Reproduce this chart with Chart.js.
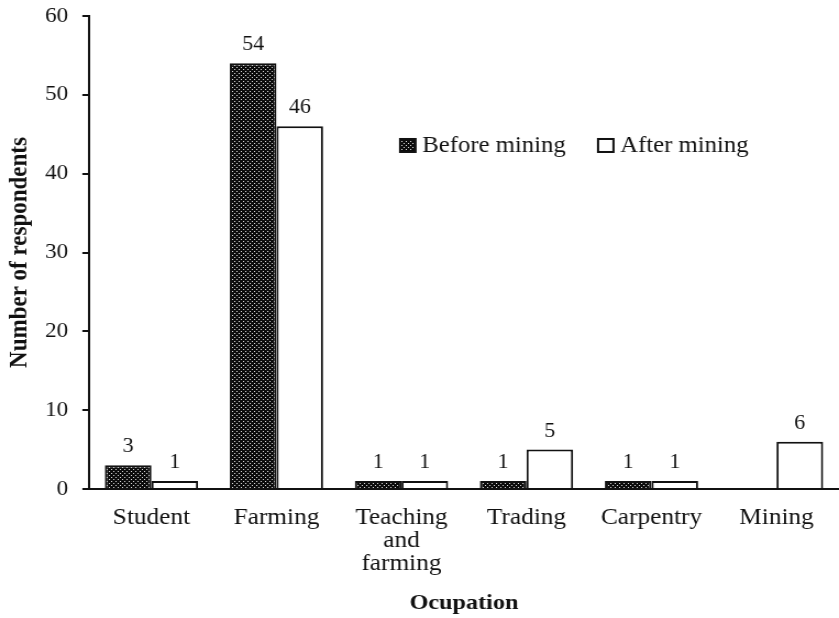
<!DOCTYPE html>
<html>
<head>
<meta charset="utf-8">
<script src="https://cdn.jsdelivr.net/npm/chart.js@4.4.1/dist/chart.umd.min.js"></script>
<style>
  html, body { margin: 0; padding: 0; background: #fff; overflow: hidden; }
  #page { width: 839px; height: 618px; overflow: hidden; position: relative; }
  /* the figure is drawn slightly narrow and widened to the page */
  #wrap { width: 763px; height: 618px; transform: scaleX(1.0996); transform-origin: 0 0; }
</style>
</head>
<body>
<div id="page"><div id="wrap"><canvas id="c" width="763" height="618"></canvas></div></div>
<script>
const categories = ['Student', 'Farming', ['Teaching', 'and', 'farming'], 'Trading', 'Carpentry', 'Mining'];
const beforeMining = [3, 54, 1, 1, 1, null];
const afterMining = [1, 46, 1, 5, 1, 6];
const yTicks = [0, 10, 20, 30, 40, 50, 60];
const seriesNames = ['Before mining', 'After mining'];

const SERIF = '"Liberation Serif", "Times New Roman", serif';
const INK = '#111';

// Dark dotted fill for the "before" bars
function dotPattern() {
  const p = document.createElement('canvas');
  p.width = 4; p.height = 4;
  const g = p.getContext('2d');
  g.fillStyle = '#0c0c0c';
  g.fillRect(0, 0, 4, 4);
  g.fillStyle = '#e0e0e0';
  g.fillRect(1, 1, 1, 1);
  g.fillRect(3, 3, 1, 1);
  return g.createPattern(p, 'repeat');
}
const pattern = dotPattern();

// Value labels above each bar
const valueLabels = {
  id: 'valueLabels',
  afterDatasetsDraw(chart) {
    const ctx = chart.ctx;
    ctx.save();
    ctx.font = '20px ' + SERIF;
    ctx.fillStyle = INK;
    ctx.textAlign = 'center';
    ctx.textBaseline = 'alphabetic';
    chart.data.datasets.forEach((ds, i) => {
      chart.getDatasetMeta(i).data.forEach((bar, j) => {
        const v = ds.data[j];
        if (v === null || v === undefined) return;
        ctx.fillText(String(v), bar.x, bar.y - 13);
      });
    });
    ctx.restore();
  }
};

// Legend drawn inside the plot area
const innerLegend = {
  id: 'innerLegend',
  afterDraw(chart) {
    const ctx = chart.ctx;
    const area = chart.chartArea;
    const base = chart.scales.y.getPixelForValue(42.75);
    const items = [
      { x: area.left + 283, fill: pattern, text: seriesNames[0] },
      { x: area.left + 463, fill: '#fff', text: seriesNames[1] }
    ];
    ctx.save();
    ctx.font = '22.5px ' + SERIF;
    ctx.textBaseline = 'alphabetic';
    items.forEach(it => {
      ctx.fillStyle = it.fill;
      ctx.fillRect(it.x, base - 13, 14, 13);
      ctx.strokeStyle = INK;
      ctx.lineWidth = 2;
      ctx.strokeRect(it.x, base - 13, 14, 13);
      ctx.fillStyle = INK;
      ctx.textAlign = 'left';
      ctx.fillText(it.text, it.x + 20, base);
    });
    ctx.restore();
  }
};

new Chart(document.getElementById('c'), {
  type: 'bar',
  data: {
    labels: categories,
    datasets: [
      {
        label: seriesNames[0],
        data: beforeMining,
        backgroundColor: pattern,
        borderColor: INK,
        borderWidth: 2,
        borderSkipped: 'bottom',
        categoryPercentage: 0.746,
        barPercentage: 1.0
      },
      {
        label: seriesNames[1],
        data: afterMining,
        backgroundColor: '#fff',
        borderColor: INK,
        borderWidth: 2,
        borderSkipped: 'bottom',
        categoryPercentage: 0.746,
        barPercentage: 1.0
      }
    ]
  },
  options: {
    responsive: false,
    animation: false,
    devicePixelRatio: 1,
    layout: { padding: { top: 16, right: -5.5, left: 0, bottom: 0 } },
    plugins: {
      legend: { display: false },
      tooltip: { enabled: false }
    },
    scales: {
      x: {
        afterFit(scale) { scale.height = 129; },
        grid: { display: false, drawTicks: false },
        border: { display: true, color: INK, width: 2 },
        ticks: {
          color: INK,
          font: { family: SERIF, size: 23, lineHeight: 1.0 },
          padding: 17,
          maxRotation: 0,
          autoSkip: false
        },
        title: {
          display: true,
          text: 'Ocupation',
          color: INK,
          font: { family: SERIF, size: 22, weight: 'bold' },
          padding: { top: 0, bottom: 1 }
        }
      },
      y: {
        min: 0,
        max: 60,
        afterBuildTicks(scale) { scale.ticks = yTicks.map(v => ({ value: v })); },
        afterFit(scale) {
          scale.width = 80.9;
          scale.paddingTop = 0;
          scale.paddingBottom = 0;
        },
        grid: { display: true, drawOnChartArea: false, drawTicks: true, tickLength: 6, color: INK, lineWidth: 2 },
        border: { display: true, color: INK, width: 2 },
        ticks: {
          color: INK,
          font: { family: SERIF, size: 21 },
          padding: 13
        },
        title: {
          display: true,
          text: 'Number of respondents',
          color: INK,
          font: { family: SERIF, size: 23, weight: 'bold' },
          padding: { top: 4, bottom: 0 }
        }
      }
    }
  },
  plugins: [valueLabels, innerLegend]
});
</script>
</body>
</html>
